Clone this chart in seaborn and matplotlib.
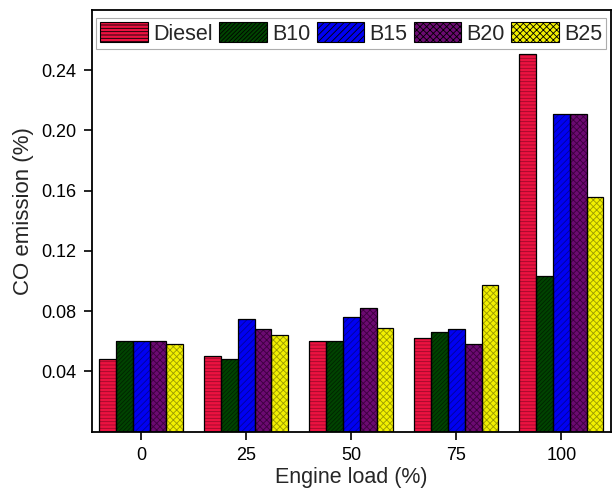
import matplotlib
matplotlib.use("Agg")
import matplotlib.pyplot as plt
from matplotlib.patches import Rectangle
import seaborn as sns
import pandas as pd

# Engine load categories and CO emission (%) per fuel blend
loads = ["0", "25", "50", "75", "100"]
fuels = ["Diesel", "B10", "B15", "B20", "B25"]
diesel = [0.048, 0.050, 0.060, 0.062, 0.251]
b10 = [0.060, 0.048, 0.060, 0.066, 0.103]
b15 = [0.060, 0.075, 0.076, 0.068, 0.211]
b20 = [0.060, 0.068, 0.082, 0.058, 0.211]
b25 = [0.058, 0.064, 0.069, 0.097, 0.156]
yticks = [0.04, 0.08, 0.12, 0.16, 0.20, 0.24]

series = {"Diesel": diesel, "B10": b10, "B15": b15, "B20": b20, "B25": b25}
rows = []
for fuel, vals in series.items():
    for ld, v in zip(loads, vals):
        rows.append({"load": ld, "fuel": fuel, "co": v})
df = pd.DataFrame(rows)

colors = {"Diesel": "#EC1241", "B10": "#004400", "B15": "#0000F2",
          "B20": "#6C0A72", "B25": "#F2F000"}
hatch_colors = {"Diesel": "#9A0A28", "B10": "#002200", "B15": "#00009A",
                "B20": "#3C003E", "B25": "#9A9A00"}
hatches = {"Diesel": "-----", "B10": "////////", "B15": "/////",
           "B20": "xxxxx", "B25": "xxxxx"}

sns.set_style("ticks")
plt.rcParams["font.family"] = ["Liberation Sans", "DejaVu Sans"]
plt.rcParams["hatch.linewidth"] = 0.6

fig = plt.figure(figsize=(6.12, 4.96), dpi=100)
ax = fig.add_axes([0.150, 0.130, 0.848, 0.850])

sns.barplot(data=df, x="load", y="co", hue="fuel", hue_order=fuels,
            order=loads, palette=colors, width=0.8, linewidth=0,
            saturation=1, ax=ax, legend=False)

# Hatch each bar in a darker shade of its fill and outline it in black
for container, fuel in zip(ax.containers, fuels):
    for p in container.patches:
        p.set_hatch(hatches[fuel])
        p.set_edgecolor(hatch_colors[fuel])
        p.set_linewidth(0)
        ax.add_patch(Rectangle(p.get_xy(), p.get_width(), p.get_height(),
                               fill=False, edgecolor="black", linewidth=0.9,
                               zorder=p.get_zorder() + 0.1))

ax.set_xlim(-0.47, 4.47)
ax.set_ylim(0, 0.28)
ax.set_yticks(yticks)
ax.set_yticklabels([f"{t:.2f}" for t in yticks])
ax.set_xlabel("Engine load (%)", fontsize=15.5, labelpad=2)
ax.set_ylabel("CO emission (%)", fontsize=16)
ax.yaxis.set_label_coords(-0.112, 0.522)
ax.tick_params(axis="both", labelsize=13, direction="out", length=6, width=1.2,
               pad=5, colors="black")
ax.tick_params(top=False, right=False)
for s in ax.spines.values():
    s.set_visible(True)
    s.set_linewidth(1.3)
    s.set_color("black")

# Legend with hatched handles
handles = []
for fuel in fuels:
    handles.append(Rectangle((0, 0), 1, 1, facecolor=colors[fuel],
                             edgecolor=hatch_colors[fuel], hatch=hatches[fuel],
                             linewidth=0.8))
leg = ax.legend(handles, fuels, loc="upper center", bbox_to_anchor=(0.5, 0.99),
                ncol=5, fontsize=15.5, frameon=True, fancybox=False,
                handlelength=2.2, handleheight=1.05, handletextpad=0.25,
                columnspacing=0.3, borderpad=0.18, borderaxespad=0.2)
leg.get_frame().set_edgecolor("#999999")
leg.get_frame().set_linewidth(0.8)
for h in leg.legend_handles:
    h.set_edgecolor("black")

fig.savefig("out.png", dpi=100)
